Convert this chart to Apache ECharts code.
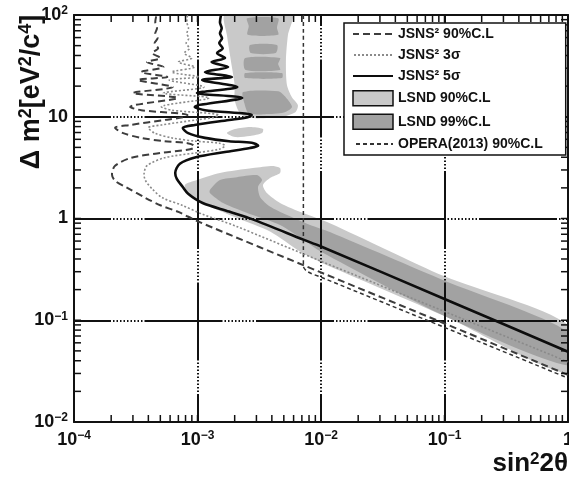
<!DOCTYPE html>
<html><head><meta charset="utf-8">
<script src="https://cdn.jsdelivr.net/npm/echarts@6/dist/echarts.min.js"></script>
<style>html,body{margin:0;padding:0;background:#fff}#c{width:569px;height:478px}</style>
</head><body><div id="c"></div>
<script>
// ---------- axis ranges / ticks ----------
const xRange = [1e-4, 1];
const yRange = [1e-2, 100];
const xDecades = [1e-4, 1e-3, 1e-2, 1e-1, 1];
const yDecades = [1e-2, 1e-1, 1, 10, 100];
const minorMultipliers = [1, 2, 3, 4, 5, 6, 7, 8, 9];

// ---------- series names ----------
const nameJ90 = 'JSNS\u00B2 90%C.L';
const nameJ3s = 'JSNS\u00B2 3\u03C3';
const nameJ5s = 'JSNS\u00B2 5\u03C3';
const nameL90 = 'LSND 90%C.L';
const nameL99 = 'LSND 99%C.L';
const nameOpera = 'OPERA(2013) 90%C.L';

// ---------- JSNS2 sensitivity curves [sin^2 2theta, dm^2] ----------
const jsns90 = [[1,0.029],[0.1,0.093],[0.01,0.295],[1e-3,0.94],[7e-4,1.16],[5e-4,1.35],[3.8e-4,1.59],[2.7e-4,2.0],[2.15e-4,2.35],[2.03e-4,2.7],[2.15e-4,3.3],[2.9e-4,3.95],[5.0e-4,4.4],[9.3e-4,4.95],[9.3e-4,5.2],[8.3e-4,5.5],[5.4e-4,5.75],[3.5e-4,6.2],[2.5e-4,6.9],[2.15e-4,7.8],[2.85e-4,8.3],[5.4e-4,9.3],[7.7e-4,9.9],[8.3e-4,10.4],[3.5e-4,11.6],[2.85e-4,12.5],[6.9e-4,15.3],[3.0e-4,17.1],[6.3e-4,19.6],[3.3e-4,23],[5.7e-4,24.6],[3.5e-4,27.5],[5.3e-4,30.8],[3.9e-4,34.5],[5.0e-4,37.8],[4.3e-4,42.3],[4.8e-4,47],[4.5e-4,53],[4.75e-4,59],[4.55e-4,66],[4.7e-4,74],[4.55e-4,85],[4.65e-4,100]];
const jsns3s = [[1,0.039],[0.1,0.122],[0.01,0.38],[2e-3,0.85],[1.1e-3,1.1],[7.5e-4,1.35],[5.2e-4,1.6],[4.3e-4,1.95],[3.8e-4,2.35],[3.69e-4,2.7],[3.9e-4,3.3],[5.4e-4,3.95],[9.5e-4,4.4],[1.5e-3,4.8],[1.67e-3,5.2],[1.5e-3,5.5],[9.7e-4,5.75],[6.2e-4,6.2],[4.5e-4,6.9],[4.0e-4,7.8],[5.1e-4,8.3],[9.7e-4,9.3],[1.38e-3,9.9],[1.48e-3,10.4],[6.2e-4,11.6],[5.1e-4,12.5],[1.24e-3,15.3],[5.3e-4,17.1],[1.13e-3,19.6],[5.9e-4,23],[1.03e-3,24.6],[6.2e-4,27.5],[9.5e-4,30.8],[7.0e-4,34.5],[9.0e-4,37.8],[7.8e-4,42.3],[8.6e-4,47],[8.1e-4,53],[8.5e-4,59],[8.2e-4,66],[8.45e-4,74],[8.2e-4,85],[8.3e-4,100]];
const jsns5s = [[1,0.049],[0.1,0.162],[0.01,0.53],[7.2e-3,0.62],[2.8e-3,0.98],[1.8e-3,1.17],[1.1e-3,1.42],[8.4e-4,1.75],[7.6e-4,2.04],[6.8e-4,2.45],[6.6e-4,2.8],[7.2e-4,3.45],[9.7e-4,4.0],[1.67e-3,4.5],[2.66e-3,4.93],[3.1e-3,5.2],[2.75e-3,5.55],[1.8e-3,5.75],[1.15e-3,6.2],[8.4e-4,6.9],[7.6e-4,7.75],[9.5e-4,8.3],[1.8e-3,9.3],[2.55e-3,9.9],[2.75e-3,10.4],[1.15e-3,11.6],[9.5e-4,12.5],[2.3e-3,15.3],[9.9e-4,17.1],[2.1e-3,19.6],[1.09e-3,23],[1.9e-3,24.6],[1.15e-3,27.5],[1.77e-3,30.8],[1.3e-3,34.5],[1.67e-3,37.8],[1.44e-3,42.3],[1.6e-3,47],[1.5e-3,53],[1.58e-3,59],[1.52e-3,66],[1.57e-3,74],[1.52e-3,85],[1.55e-3,100]];
const opera = [[7.2e-3,100],[7.2e-3,0.34],[7.8e-3,0.3],[0.01,0.265],[0.1,0.085],[1,0.027]];

// ---------- LSND allowed regions (polygons) ----------
const lsnd90Main = [[7.9e-4,2.13],[9.9e-4,2.39],[1.52e-3,2.8],[2.81e-3,3.13],[4.08e-3,3.28],[4.66e-3,3.13],[4.66e-3,2.8],[3.86e-3,2.5],[3.39e-3,2.13],[3.65e-3,1.78],[4.66e-3,1.42],[7.16e-3,1.13],[1.18e-2,0.9],[0.1,0.27],[1,0.09],[1,0.03],[0.1,0.11],[0.01,0.37],[6.8e-3,0.47],[3.9e-3,0.74],[2.09e-3,1.01],[1.26e-3,1.31],[8.7e-4,1.63]];
const lsnd90Island = [[1.73e-3,6.92],[2.01e-3,7.58],[2.66e-3,7.93],[3.39e-3,7.58],[3.33e-3,6.92],[2.66e-3,6.47],[2.01e-3,6.32]];
const lsnd90Top = [[1.67e-3,100],[5.8e-3,100],[5.4e-3,63.6],[5.2e-3,36],[5.3e-3,20.5],[5.8e-3,15.6],[6.5e-3,13],[6.2e-3,11.1],[4.7e-3,9.94],[2.66e-3,9.7],[2.2e-3,10.9],[2.0e-3,14.6],[2.0e-3,20.5],[1.9e-3,30.8],[1.73e-3,63.6]];
const lsnd99Main = [[1.26e-3,1.91],[1.52e-3,2.39],[2.09e-3,2.55],[3.03e-3,2.67],[3.33e-3,2.39],[3.09e-3,2.04],[3.21e-3,1.63],[3.86e-3,1.31],[5.31e-3,1.08],[8.15e-3,0.863],[1.18e-2,0.737],[0.1,0.245],[1,0.077],[1,0.036],[0.1,0.11],[0.01,0.47],[7.16e-3,0.62],[4.66e-3,0.863],[2.81e-3,1.08],[1.61e-3,1.42],[1.26e-3,1.78]];
const lsnd99Top1 = [[2.52e-3,93],[4.5e-3,93],[4.4e-3,75],[4.5e-3,64],[2.55e-3,64],[2.6e-3,78]];
const lsnd99Top2 = [[2.66e-3,50.7],[4.4e-3,50.7],[4.3e-3,42.3],[2.7e-3,42.3]];
const lsnd99Top3 = [[2.43e-3,37.8],[4.66e-3,37.8],[4.5e-3,33],[4.66e-3,28.8],[2.45e-3,28.8]];
const lsnd99Top4 = [[2.43e-3,26.9],[4.83e-3,26.9],[4.83e-3,24],[2.43e-3,24]];
const lsnd99Top5 = [[2.34e-3,17.5],[4.5e-3,17.8],[5.2e-3,15.5],[5.82e-3,12.5],[5.0e-3,11],[3.5e-3,10.6],[2.6e-3,10.8],[2.4e-3,13.5]];

const lsnd90Polys = [lsnd90Main, lsnd90Island, lsnd90Top];
const lsnd99Polys = [lsnd99Main, lsnd99Top1, lsnd99Top2, lsnd99Top3, lsnd99Top4, lsnd99Top5];

// ---------- styles ----------
const FONT = 'Liberation Sans';
const INK = '#111';
const LIGHT = '#c9c9c9';
const DARK = '#a2a2a2';

function tickList(decades) {
  const out = [];
  decades.forEach(d => minorMultipliers.forEach(m => { const v = +(d * m).toPrecision(3); if (m === 1 || d !== decades[decades.length - 1]) out.push(v); }));
  return out;
}
const xTicks = tickList(xDecades);
const yTicks = tickList(yDecades);

function powLabel(v) {
  const e = Math.round(Math.log10(v));
  if (e === 0) return '{b|1}';
  if (e === 1) return '{b|10}';
  return '{b|10}{s|' + (e < 0 ? '\u2212' + (-e) : String(e)) + '}';
}
const labelRich = {
  b: { fontFamily: FONT, fontWeight: 'bold', fontSize: 18, color: INK, lineHeight: 20 },
  s: { fontFamily: FONT, fontWeight: 'bold', fontSize: 12, color: INK, verticalAlign: 'top', lineHeight: 10 }
};

function gridDash() {
  const arr = [78, 2];
  for (let i = 0; i < 9; i++) arr.push(1.5, 2);
  return arr;
}

function regionSeries(name, polys, color) {
  return {
    type: 'custom', name: name, coordinateSystem: 'cartesian2d', z: 1, clip: true, silent: true,
    itemStyle: { color: color, borderColor: INK, borderWidth: 1.5 },
    dimensions: ['x', 'y', 'idx'], encode: { x: 'x', y: 'y' },
    data: polys.map((p, i) => [p[0][0], p[0][1], i]),
    renderItem: function (params, api) {
      const poly = polys[api.value(2)];
      return { type: 'polygon', shape: { points: poly.map(pt => api.coord(pt)), smooth: 0.25 },
               style: { fill: color, stroke: null } };
    }
  };
}

function tickSeries(vals, horizontal) {
  return {
    type: 'custom', coordinateSystem: 'cartesian2d', z: 4, silent: true, clip: false,
    dimensions: ['x', 'y'], encode: { x: 'x', y: 'y' },
    data: vals.map(v => horizontal ? [v, 1] : [1e-2, v]),
    renderItem: function (params, api) {
      const cs = params.coordSys;
      const L = 7;
      const st = { stroke: INK, lineWidth: 1.5 };
      if (horizontal) {
        const x = api.coord([api.value(0), 1])[0];
        return { type: 'group', children: [
          { type: 'line', shape: { x1: x, y1: cs.y + cs.height, x2: x, y2: cs.y + cs.height - L }, style: st },
          { type: 'line', shape: { x1: x, y1: cs.y, x2: x, y2: cs.y + L }, style: st } ] };
      }
      const y = api.coord([1e-2, api.value(1)])[1];
      return { type: 'group', children: [
        { type: 'line', shape: { x1: cs.x, y1: y, x2: cs.x + L, y2: y }, style: st },
        { type: 'line', shape: { x1: cs.x + cs.width, y1: y, x2: cs.x + cs.width - L, y2: y }, style: st } ] };
    }
  };
}

function lineSeries(name, data, color, width, type) {
  return { type: 'line', name: name, data: data, showSymbol: false, symbol: 'none', smooth: 0.3,
           z: 3, silent: true, itemStyle: { color: color },
           lineStyle: { color: color, width: width, type: type } };
}

const chart = echarts.init(document.getElementById('c'), null, { renderer: 'canvas' });
chart.setOption({
  animation: false,
  backgroundColor: '#fff',
  grid: { left: 74, right: 1, top: 15, bottom: 56, containLabel: false, outerBoundsMode: 'none' },
  xAxis: [
    { type: 'log', logBase: 10, min: xRange[0], max: xRange[1], position: 'bottom', z: 2,
      axisLine: { lineStyle: { color: INK, width: 2 } }, axisTick: { show: false },
      axisLabel: { formatter: powLabel, rich: labelRich, margin: 8, showMinLabel: true, showMaxLabel: true, hideOverlap: false },
      splitLine: { show: true, lineStyle: { color: INK, width: 2, type: gridDash(), dashOffset: 67 } },
      name: 'sin{s|2}2\u03B8', nameLocation: 'end', nameGap: 0, nameMoveOverlap: false,
      nameTextStyle: { align: 'right', verticalAlign: 'top', padding: [29, 0, 0, 0],
        rich: { s: { fontFamily: FONT, fontWeight: 'bold', fontSize: 17, color: INK, verticalAlign: 'top', lineHeight: 12 } },
        fontFamily: FONT, fontWeight: 'bold', fontSize: 26, color: INK } },
    { type: 'log', logBase: 10, min: xRange[0], max: xRange[1], position: 'top', z: 2,
      axisLine: { lineStyle: { color: INK, width: 2 } }, axisTick: { show: false },
      axisLabel: { show: false }, splitLine: { show: false } }
  ],
  yAxis: [
    { type: 'log', logBase: 10, min: yRange[0], max: yRange[1], position: 'left', z: 2,
      axisLine: { lineStyle: { color: INK, width: 2 } }, axisTick: { show: false },
      axisLabel: { formatter: powLabel, rich: labelRich, margin: 6, showMinLabel: true, showMaxLabel: true, hideOverlap: false },
      splitLine: { show: true, lineStyle: { color: INK, width: 2, type: gridDash(), dashOffset: 41 } } },
    { type: 'log', logBase: 10, min: yRange[0], max: yRange[1], position: 'right', z: 2,
      axisLine: { lineStyle: { color: INK, width: 2 } }, axisTick: { show: false },
      axisLabel: { show: false }, splitLine: { show: false } }
  ],
  legend: {
    orient: 'vertical', left: 344, top: 23, z: 6, selectedMode: false,
    padding: [4, 23, 4, 8], itemWidth: 40, itemHeight: 15, itemGap: 7,
    backgroundColor: '#fff', borderColor: INK, borderWidth: 1.5, borderRadius: 0,
    textStyle: { fontFamily: FONT, fontWeight: 'bold', fontSize: 14, color: INK },
    data: [
      { name: nameJ90, itemStyle: { opacity: 0 } },
      { name: nameJ3s, itemStyle: { opacity: 0 } },
      { name: nameJ5s, itemStyle: { opacity: 0 } },
      { name: nameL90, icon: 'rect', itemStyle: { color: LIGHT, borderColor: INK, borderWidth: 1.5 } },
      { name: nameL99, icon: 'rect', itemStyle: { color: DARK, borderColor: INK, borderWidth: 1.5 } },
      { name: nameOpera, itemStyle: { opacity: 0 } }
    ]
  },
  graphic: [
    { type: 'text', x: 32, y: 92, rotation: Math.PI / 2, z: 10,
      style: { text: '{b|\u0394 m}{s|2}{b|[eV}{s|2}{b|/c}{s|4}{b|]}',
        rich: { b: { fontFamily: FONT, fontWeight: 'bold', fontSize: 27, fill: INK, color: INK, lineHeight: 30 },
                s: { fontFamily: FONT, fontWeight: 'bold', fontSize: 18, fill: INK, color: INK, verticalAlign: 'top', lineHeight: 14 } },
        align: 'center', verticalAlign: 'middle', textAlign: 'center', textVerticalAlign: 'middle' } }
  ],
  series: [
    regionSeries(nameL90, lsnd90Polys, LIGHT),
    regionSeries(nameL99, lsnd99Polys, DARK),
    lineSeries(nameOpera, opera, '#333', 1.5, [4, 3]),
    lineSeries(nameJ90, jsns90, '#3d3d3d', 2, [7, 4]),
    lineSeries(nameJ3s, jsns3s, '#8a8a8a', 1.6, [2, 2]),
    lineSeries(nameJ5s, jsns5s, '#0d0d0d', 2.6, 'solid'),
    tickSeries(xTicks, true),
    tickSeries(yTicks, false)
  ]
});
</script>
</body></html>
